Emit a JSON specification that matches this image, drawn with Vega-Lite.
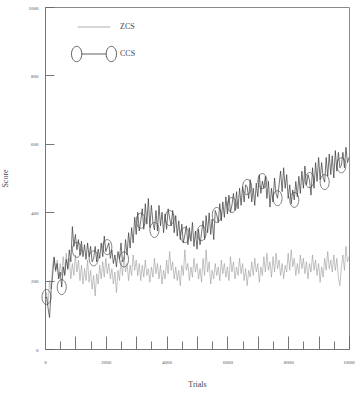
{
  "$schema": "https://vega.github.io/schema/vega-lite/v6.json",
  "width": 304,
  "height": 342,
  "autosize": "none",
  "padding": {"left": 45, "top": 7, "right": 6, "bottom": 44},
  "background": "white",
  "config": {
    "view": {"stroke": "#8a8a8a", "strokeWidth": 1},
    "font": "Liberation Serif",
    "axis": {
      "domainColor": "#777777",
      "tickColor": "#666666",
      "tickWidth": 0.9,
      "labelFont": "Liberation Serif",
      "labelFontSize": 5,
      "labelColor": "#555555",
      "titleFont": "Liberation Serif",
      "titleFontSize": 8,
      "titleFontWeight": "normal",
      "titleColor": "#444444",
      "grid": false
    }
  },
  "data": {
    "values": [
      {"t":0,"z":140,"c":150},{"t":50,"z":165,"c":152,"m":1},{"t":100,"z":130,"c":120},{"t":150,"z":200,"c":92},{"t":200,"z":175,"c":170},
      {"t":250,"z":245,"c":215},{"t":300,"z":270,"c":268},{"t":350,"z":225,"c":230},{"t":400,"z":260,"c":250},{"t":450,"z":205,"c":205},
      {"t":500,"z":250,"c":225},{"t":550,"z":215,"c":181,"m":1},{"t":600,"z":270,"c":240},{"t":650,"z":220,"c":215},{"t":700,"z":280,"c":262},
      {"t":750,"z":230,"c":235},{"t":800,"z":265,"c":290},{"t":850,"z":205,"c":255},{"t":900,"z":250,"c":358},{"t":950,"z":215,"c":300},
      {"t":1000,"z":275,"c":335},{"t":1050,"z":225,"c":290,"m":1},{"t":1100,"z":260,"c":320},{"t":1150,"z":200,"c":275},{"t":1200,"z":245,"c":315},
      {"t":1250,"z":190,"c":270},{"t":1300,"z":235,"c":305},{"t":1350,"z":200,"c":262},{"t":1400,"z":260,"c":310},{"t":1450,"z":195,"c":270},
      {"t":1500,"z":230,"c":300},{"t":1550,"z":175,"c":255},{"t":1600,"z":215,"c":265,"m":1},{"t":1650,"z":155,"c":300},{"t":1700,"z":220,"c":255},
      {"t":1750,"z":190,"c":292},{"t":1800,"z":245,"c":265},{"t":1850,"z":205,"c":310},{"t":1900,"z":255,"c":270},{"t":1950,"z":210,"c":330},
      {"t":2000,"z":265,"c":285},{"t":2050,"z":220,"c":298,"m":1},{"t":2100,"z":250,"c":310},{"t":2150,"z":205,"c":265},{"t":2200,"z":235,"c":290},
      {"t":2250,"z":190,"c":250},{"t":2300,"z":225,"c":275},{"t":2350,"z":165,"c":240},{"t":2400,"z":230,"c":285},{"t":2450,"z":200,"c":262},
      {"t":2500,"z":260,"c":310},{"t":2550,"z":215,"c":255},{"t":2600,"z":270,"c":262,"m":1},{"t":2650,"z":225,"c":320},{"t":2700,"z":250,"c":275},
      {"t":2750,"z":200,"c":340},{"t":2800,"z":245,"c":295},{"t":2850,"z":215,"c":355},{"t":2900,"z":275,"c":310},{"t":2950,"z":230,"c":385},
      {"t":3000,"z":260,"c":335},{"t":3050,"z":215,"c":400},{"t":3100,"z":250,"c":345},{"t":3150,"z":200,"c":375,"m":1},{"t":3200,"z":245,"c":410},
      {"t":3250,"z":210,"c":350},{"t":3300,"z":260,"c":425},{"t":3350,"z":215,"c":365},{"t":3400,"z":235,"c":440},{"t":3450,"z":195,"c":355},
      {"t":3500,"z":240,"c":420},{"t":3550,"z":210,"c":370},{"t":3600,"z":265,"c":348,"m":1},{"t":3650,"z":220,"c":405},{"t":3700,"z":250,"c":345},
      {"t":3750,"z":205,"c":420},{"t":3800,"z":245,"c":360},{"t":3850,"z":190,"c":400},{"t":3900,"z":230,"c":340},{"t":3950,"z":205,"c":395},
      {"t":4000,"z":260,"c":350},{"t":4050,"z":220,"c":410},{"t":4100,"z":285,"c":383,"m":1},{"t":4150,"z":230,"c":360},{"t":4200,"z":255,"c":405},
      {"t":4250,"z":205,"c":340},{"t":4300,"z":240,"c":390},{"t":4350,"z":200,"c":330},{"t":4400,"z":230,"c":375},{"t":4450,"z":185,"c":320},
      {"t":4500,"z":245,"c":365},{"t":4550,"z":215,"c":310},{"t":4600,"z":290,"c":333,"m":1},{"t":4650,"z":230,"c":360},{"t":4700,"z":250,"c":305},
      {"t":4750,"z":200,"c":355},{"t":4800,"z":240,"c":315},{"t":4850,"z":210,"c":370},{"t":4900,"z":265,"c":300},{"t":4950,"z":225,"c":345},
      {"t":5000,"z":250,"c":292},{"t":5050,"z":205,"c":350},{"t":5100,"z":235,"c":305},{"t":5150,"z":195,"c":339,"m":1},{"t":5200,"z":265,"c":375},
      {"t":5250,"z":215,"c":320},{"t":5300,"z":290,"c":390},{"t":5350,"z":225,"c":340},{"t":5400,"z":255,"c":398},{"t":5450,"z":190,"c":335},
      {"t":5500,"z":230,"c":380},{"t":5550,"z":205,"c":320},{"t":5600,"z":250,"c":405},{"t":5650,"z":215,"c":392,"m":1},{"t":5700,"z":240,"c":370},
      {"t":5750,"z":200,"c":425},{"t":5800,"z":260,"c":375},{"t":5850,"z":220,"c":430},{"t":5900,"z":250,"c":385},{"t":5950,"z":210,"c":445},
      {"t":6000,"z":240,"c":395},{"t":6050,"z":200,"c":450},{"t":6100,"z":270,"c":400},{"t":6150,"z":225,"c":421,"m":1},{"t":6200,"z":255,"c":455},
      {"t":6250,"z":205,"c":405},{"t":6300,"z":240,"c":460},{"t":6350,"z":215,"c":410},{"t":6400,"z":265,"c":470},{"t":6450,"z":220,"c":420},
      {"t":6500,"z":250,"c":475},{"t":6550,"z":200,"c":430},{"t":6600,"z":235,"c":480},{"t":6650,"z":185,"c":474,"m":1},{"t":6700,"z":230,"c":440},
      {"t":6750,"z":210,"c":495},{"t":6800,"z":255,"c":430},{"t":6850,"z":215,"c":470},{"t":6900,"z":265,"c":420},{"t":6950,"z":225,"c":485},
      {"t":7000,"z":250,"c":445},{"t":7050,"z":195,"c":510},{"t":7100,"z":240,"c":455},{"t":7150,"z":215,"c":491,"m":1},{"t":7200,"z":270,"c":470},
      {"t":7250,"z":225,"c":505},{"t":7300,"z":280,"c":440},{"t":7350,"z":230,"c":490},{"t":7400,"z":255,"c":415},{"t":7450,"z":210,"c":470},
      {"t":7500,"z":270,"c":430},{"t":7550,"z":225,"c":500},{"t":7600,"z":280,"c":455},{"t":7650,"z":235,"c":441,"m":1},{"t":7700,"z":260,"c":480},
      {"t":7750,"z":215,"c":520},{"t":7800,"z":250,"c":460},{"t":7850,"z":205,"c":530},{"t":7900,"z":245,"c":470},{"t":7950,"z":225,"c":510},
      {"t":8000,"z":280,"c":440},{"t":8050,"z":230,"c":480},{"t":8100,"z":290,"c":425},{"t":8150,"z":240,"c":465},{"t":8200,"z":265,"c":436,"m":1},
      {"t":8250,"z":215,"c":490},{"t":8300,"z":250,"c":445},{"t":8350,"z":220,"c":505},{"t":8400,"z":275,"c":455},{"t":8450,"z":235,"c":520},
      {"t":8500,"z":265,"c":470},{"t":8550,"z":220,"c":535},{"t":8600,"z":255,"c":480},{"t":8650,"z":205,"c":510},{"t":8700,"z":250,"c":494,"m":1},
      {"t":8750,"z":225,"c":450},{"t":8800,"z":275,"c":530},{"t":8850,"z":230,"c":470},{"t":8900,"z":260,"c":545},{"t":8950,"z":215,"c":490},
      {"t":9000,"z":250,"c":560},{"t":9050,"z":195,"c":495},{"t":9100,"z":240,"c":545},{"t":9150,"z":210,"c":500},{"t":9200,"z":265,"c":488,"m":1},
      {"t":9250,"z":230,"c":560},{"t":9300,"z":285,"c":505},{"t":9350,"z":235,"c":570},{"t":9400,"z":260,"c":510},{"t":9450,"z":225,"c":565},
      {"t":9500,"z":275,"c":500},{"t":9550,"z":230,"c":580},{"t":9600,"z":265,"c":520},{"t":9650,"z":210,"c":575},{"t":9700,"z":185,"c":530},
      {"t":9750,"z":240,"c":537,"m":1},{"t":9800,"z":275,"c":575},{"t":9850,"z":230,"c":530},{"t":9900,"z":300,"c":590},{"t":9950,"z":255,"c":545},
      {"t":10000,"z":270,"c":560}
    ]
  },
  "encoding": {
    "x": {
      "field": "t",
      "type": "quantitative",
      "title": "Trials",
      "scale": {"domain": [0, 10000], "nice": false},
      "axis": {
        "values": [0,500,1000,1500,2000,2500,3000,3500,4000,4500,5000,5500,6000,6500,7000,7500,8000,8500,9000,9500,10000],
        "tickSize": {"condition": {"test": "datum.value % 1000 === 0", "value": -13}, "value": -8},
        "format": "d",
        "labelExpr": "datum.value % 2000 === 0 ? datum.label : ''",
        "labelPadding": 23,
        "labelFlush": false,
        "labelOverlap": false,
        "titlePadding": 11
      }
    }
  },
  "layer": [
    {
      "mark": {"type": "line", "strokeWidth": 0.6, "clip": true},
      "encoding": {
        "y": {
          "field": "z",
          "type": "quantitative",
          "title": "Score",
          "scale": {"domain": [0, 1000], "nice": false},
          "axis": {
            "values": [0,50,100,150,200,250,300,350,400,450,500,550,600,650,700,750,800,850,900,950,1000],
            "tickSize": -9,
            "format": "d",
            "labelExpr": "datum.value % 200 === 0 ? datum.label : ''",
            "labelPadding": 16,
            "labelFlush": false,
            "labelOverlap": false,
            "titlePadding": 19
          }
        },
        "color": {
          "datum": "ZCS",
          "type": "nominal",
          "scale": {"domain": ["ZCS", "CCS"], "range": ["#9a9a9a", "#383838"]},
          "legend": {
            "title": null,
            "orient": "none",
            "legendX": 26,
            "legendY": -3,
            "padding": 0,
            "offset": 0,
            "symbolSize": 2025,
            "symbolStrokeWidth": 0.8,
            "symbolFillColor": "transparent",
            "labelFont": "Liberation Serif",
            "labelFontSize": 8,
            "labelColor": "#444444",
            "labelOffset": 3,
            "rowPadding": -16,
            "encode": {
              "symbols": {
                "update": {
                  "shape": {"signal": "datum.value === 'CCS' ? 'M -1,0 A 0.229,0.34 0 1,1 -0.542,0 A 0.229,0.34 0 1,1 -1,0 M -0.542,0 L 0.542,0 M 0.542,0 A 0.229,0.34 0 1,1 1,0 A 0.229,0.34 0 1,1 0.542,0' : 'M -0.724,0 L 0.724,0'"},
                  "stroke": {"signal": "datum.value === 'CCS' ? '#555555' : '#a8a8a8'"}
                }
              }
            }
          }
        }
      }
    },
    {
      "mark": {"type": "line", "strokeWidth": 0.7, "clip": true},
      "encoding": {
        "y": {"field": "c", "type": "quantitative"},
        "color": {"datum": "CCS", "type": "nominal"}
      }
    },
    {
      "transform": [{"filter": "datum.m === 1"}],
      "mark": {
        "type": "point",
        "shape": "M -0.6,0 A 0.6,1 0 1,1 0.6,0 A 0.6,1 0 1,1 -0.6,0 Z",
        "size": 225,
        "filled": false,
        "stroke": "#4a4a4a",
        "strokeWidth": 0.7,
        "opacity": 1
      },
      "encoding": {
        "y": {"field": "c", "type": "quantitative"}
      }
    }
  ]
}
